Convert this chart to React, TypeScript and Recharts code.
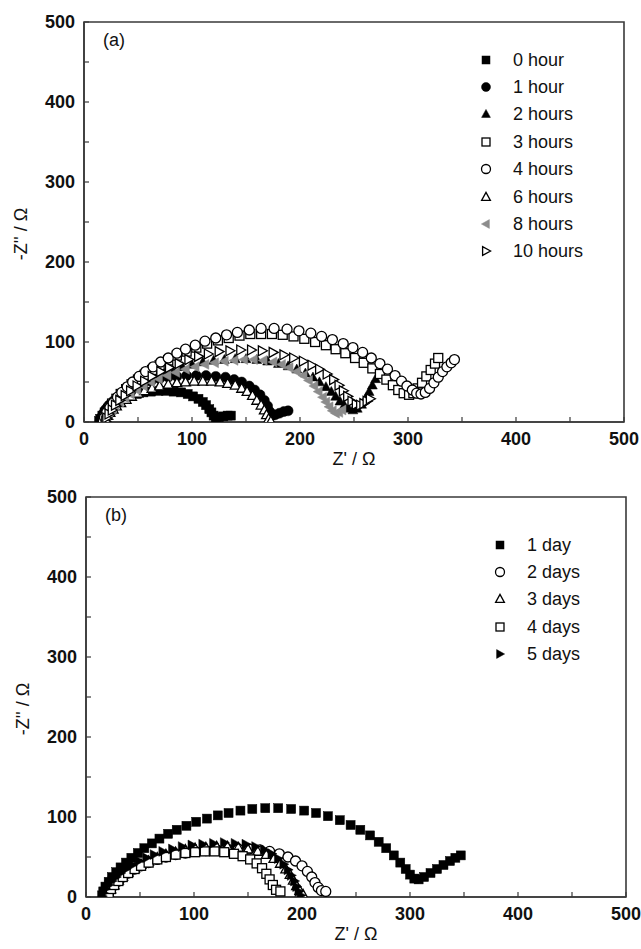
import React from "react";
import { Label, ReferenceArea, Scatter, ScatterChart, XAxis, YAxis } from "recharts";

type Pair = [number, number];
type Kind = "square" | "circle" | "triUp" | "triLeft" | "triRight";

// panel (a): hours of immersion
const hour0: Pair[] = [
  [14, 1], [15, 4], [17, 8], [19, 12], [22, 16], [25, 20], [29, 24], [33, 27], [38, 30], [43, 33],
  [49, 35], [55, 37], [62, 38], [69, 39], [76, 39], [83, 38], [90, 37], [96, 35], [101, 32], [106, 29],
  [110, 25], [113, 21], [116, 16], [118, 12], [120, 8], [122, 5], [125, 6], [129, 7], [133, 8], [136, 8],
];
const hour1: Pair[] = [
  [15, 2], [16, 6], [18, 11], [20, 16], [23, 21], [27, 26], [31, 31], [36, 35], [42, 40], [48, 44],
  [55, 48], [62, 51], [70, 54], [78, 56], [86, 57], [95, 58], [104, 58], [113, 58], [122, 57], [131, 56],
  [139, 53], [146, 50], [153, 45], [158, 40], [163, 34], [167, 27], [170, 20], [172, 13], [174, 8], [177, 9],
  [181, 11], [185, 13], [189, 14],
];
const hour2: Pair[] = [
  [17, 1], [18, 5], [20, 10], [23, 15], [26, 20], [30, 26], [35, 31], [40, 36], [46, 41], [52, 46],
  [59, 51], [66, 56], [74, 61], [82, 65], [91, 69], [100, 72], [110, 75], [120, 77], [130, 78], [140, 79],
  [150, 79], [160, 78], [170, 76], [180, 73], [189, 70], [197, 66], [205, 61], [212, 56], [218, 50], [224, 44],
  [229, 38], [233, 32], [237, 26], [241, 21], [245, 17], [249, 15], [253, 17], [257, 22], [261, 30], [264, 38],
  [267, 46], [270, 54],
];
const hour3: Pair[] = [
  [18, 1], [19, 6], [21, 11], [23, 17], [26, 23], [30, 29], [34, 35], [39, 41], [44, 47], [50, 53],
  [56, 59], [63, 65], [70, 71], [78, 77], [86, 83], [95, 88], [104, 93], [114, 98], [124, 102], [134, 105],
  [144, 108], [154, 110], [164, 110], [174, 110], [184, 109], [194, 107], [204, 104], [214, 100], [224, 96], [233, 91],
  [242, 86], [251, 80], [259, 74], [267, 67], [274, 60], [280, 53], [286, 46], [291, 40], [296, 36], [301, 34],
  [305, 36], [309, 42], [313, 49], [317, 57], [321, 65], [325, 73], [328, 80],
];
const hour4: Pair[] = [
  [18, 1], [19, 6], [21, 12], [24, 18], [27, 24], [31, 31], [35, 37], [40, 44], [45, 50], [51, 57],
  [57, 63], [64, 69], [71, 75], [78, 80], [86, 86], [94, 91], [103, 96], [112, 101], [122, 105], [132, 109],
  [142, 112], [153, 115], [164, 117], [176, 117], [188, 116], [199, 114], [210, 111], [220, 107], [230, 103], [240, 98],
  [249, 93], [258, 87], [266, 80], [274, 73], [281, 66], [288, 58], [294, 51], [299, 45], [304, 40], [308, 36],
  [312, 35], [316, 37], [320, 42], [324, 49], [328, 56], [332, 63], [336, 69], [340, 74], [343, 78],
];
const hour6: Pair[] = [
  [19, 1], [20, 4], [22, 8], [24, 12], [27, 16], [30, 20], [34, 24], [39, 28], [44, 32], [50, 36],
  [56, 39], [63, 42], [70, 45], [78, 47], [86, 49], [94, 50], [102, 51], [110, 51], [118, 51], [126, 50],
  [133, 48], [140, 46], [146, 42], [151, 38], [156, 33], [160, 27], [164, 21], [167, 15], [169, 9], [171, 4],
  [173, 1],
];
const hour8: Pair[] = [
  [20, 1], [21, 5], [23, 10], [26, 15], [29, 20], [33, 25], [38, 30], [43, 35], [49, 40], [55, 45],
  [62, 50], [69, 54], [77, 58], [85, 62], [94, 66], [103, 69], [112, 72], [121, 74], [130, 76], [139, 77],
  [148, 78], [157, 78], [166, 77], [175, 75], [183, 72], [190, 68], [197, 63], [203, 58], [208, 52], [213, 45],
  [217, 38], [221, 31], [224, 25], [227, 19], [230, 14], [233, 11], [236, 12], [239, 15],
];
const hour10: Pair[] = [
  [20, 1], [21, 5], [23, 10], [26, 15], [29, 21], [33, 27], [38, 33], [43, 39], [49, 45], [56, 51],
  [63, 57], [71, 63], [79, 68], [88, 73], [97, 78], [106, 82], [115, 85], [125, 88], [135, 89], [145, 90],
  [155, 90], [165, 89], [175, 87], [185, 84], [194, 80], [203, 76], [211, 71], [218, 66], [225, 60], [231, 53],
  [236, 46], [240, 39], [244, 32], [248, 26], [252, 22], [256, 21], [259, 23], [262, 26], [265, 29],
];

// panel (b): days of immersion
const day1: Pair[] = [
  [15, 2], [16, 7], [18, 13], [21, 19], [24, 25], [28, 31], [32, 37], [37, 43], [42, 49], [48, 55],
  [54, 61], [61, 67], [68, 73], [76, 79], [84, 84], [93, 89], [102, 94], [112, 98], [122, 102], [132, 105],
  [143, 108], [154, 110], [166, 111], [178, 111], [190, 110], [202, 108], [213, 105], [224, 101], [235, 96], [245, 90],
  [254, 84], [263, 77], [271, 69], [278, 61], [285, 52], [291, 43], [296, 35], [300, 28], [304, 23], [308, 22],
  [313, 25], [319, 30], [325, 35], [331, 40], [337, 45], [342, 49], [347, 52],
];
const day2: Pair[] = [
  [20, 1], [21, 5], [23, 10], [26, 15], [30, 20], [34, 25], [39, 30], [45, 35], [51, 39], [58, 43],
  [66, 47], [74, 50], [83, 53], [92, 55], [101, 57], [111, 58], [121, 59], [131, 60], [141, 60], [151, 60],
  [161, 59], [170, 57], [179, 54], [187, 50], [194, 45], [200, 39], [205, 32], [209, 25], [212, 18], [215, 12],
  [218, 8], [222, 7],
];
const day3: Pair[] = [
  [20, 1], [21, 5], [23, 10], [26, 15], [30, 21], [34, 26], [39, 31], [45, 36], [51, 41], [58, 45],
  [66, 49], [74, 53], [83, 56], [92, 59], [101, 61], [111, 62], [121, 63], [131, 63], [141, 62], [150, 60],
  [159, 57], [167, 53], [174, 48], [180, 42], [185, 35], [189, 28], [192, 21], [195, 14], [198, 8], [201, 3],
];
const day4: Pair[] = [
  [20, 1], [21, 5], [23, 10], [26, 15], [30, 20], [34, 25], [39, 30], [45, 35], [51, 39], [58, 43],
  [66, 47], [74, 50], [83, 53], [92, 55], [101, 56], [110, 57], [119, 57], [128, 56], [137, 54], [145, 51],
  [152, 47], [158, 42], [163, 36], [167, 29], [170, 22], [173, 15], [176, 9], [180, 7],
];
const day5: Pair[] = [
  [15, 1], [16, 5], [18, 10], [21, 15], [24, 20], [28, 25], [32, 30], [37, 35], [43, 40], [49, 45],
  [56, 49], [63, 53], [71, 57], [80, 60], [89, 63], [98, 65], [108, 66], [118, 67], [128, 68], [138, 67],
  [148, 66], [157, 63], [165, 59], [172, 54], [178, 48], [183, 41], [187, 34], [190, 27], [193, 20], [195, 13],
  [197, 7], [199, 2],
];

const axisTicks = [0, 50, 100, 150, 200, 250, 300, 350, 400, 450, 500];

const panelA = [
  { name: "0 hour", data: hour0, kind: "square" as Kind, fill: "#000" },
  { name: "1 hour", data: hour1, kind: "circle" as Kind, fill: "#000" },
  { name: "2 hours", data: hour2, kind: "triUp" as Kind, fill: "#000" },
  { name: "3 hours", data: hour3, kind: "square" as Kind, fill: "#fff" },
  { name: "4 hours", data: hour4, kind: "circle" as Kind, fill: "#fff" },
  { name: "6 hours", data: hour6, kind: "triUp" as Kind, fill: "#fff" },
  { name: "8 hours", data: hour8, kind: "triLeft" as Kind, fill: "#8c8c8c" },
  { name: "10 hours", data: hour10, kind: "triRight" as Kind, fill: "#fff" },
];

const panelB = [
  { name: "1 day", data: day1, kind: "square" as Kind, fill: "#000" },
  { name: "2 days", data: day2, kind: "circle" as Kind, fill: "#fff" },
  { name: "3 days", data: day3, kind: "triUp" as Kind, fill: "#fff" },
  { name: "4 days", data: day4, kind: "square" as Kind, fill: "#fff" },
  { name: "5 days", data: day5, kind: "triRight" as Kind, fill: "#000" },
];

type Series = (typeof panelA)[number];

const FONT = "'Liberation Sans', Arial, sans-serif";
const AXIS = "#3a3a3a";

function Marker({ cx, cy, kind, fill, s }: { cx: number; cy: number; kind: Kind; fill: string; s: number }) {
  const open = fill === "#fff";
  const stroke = open ? "#000" : fill;
  const sw = open ? 1.3 : 0.5;
  const h = s / 2;
  if (kind === "square") {
    return <rect x={cx - h} y={cy - h} width={s} height={s} fill={fill} stroke={stroke} strokeWidth={sw} />;
  }
  if (kind === "circle") {
    return <circle cx={cx} cy={cy} r={h + 0.5} fill={fill} stroke={stroke} strokeWidth={sw} />;
  }
  let pts: number[][];
  if (kind === "triUp") pts = [[cx, cy - h * 1.15], [cx - h * 1.1, cy + h * 0.85], [cx + h * 1.1, cy + h * 0.85]];
  else if (kind === "triLeft") pts = [[cx - h * 1.15, cy], [cx + h * 0.85, cy - h * 1.1], [cx + h * 0.85, cy + h * 1.1]];
  else pts = [[cx + h * 1.15, cy], [cx - h * 0.85, cy - h * 1.1], [cx - h * 0.85, cy + h * 1.1]];
  return <polygon points={pts.map((p) => p.join(",")).join(" ")} fill={fill} stroke={stroke} strokeWidth={sw} strokeLinejoin="miter" />;
}

function LegendBox({ series, left, top }: { series: Series[]; left: number; top: number }) {
  return (
    <div style={{ position: "absolute", left, top, fontFamily: FONT, fontSize: 18, color: "#111" }}>
      {series.map((s) => (
        <div key={s.name} style={{ display: "flex", alignItems: "center", height: 27.4 }}>
          <svg width={34} height={16} style={{ display: "block" }}>
            <Marker cx={7} cy={8} kind={s.kind} fill={s.fill} s={8} />
          </svg>
          <span style={{ lineHeight: "18px", whiteSpace: "nowrap" }}>{s.name}</span>
        </div>
      ))}
    </div>
  );
}

const tickFmt = (v: number) => (v % 100 === 0 ? String(v) : "");

function Panel({ series, tag, shiftX, height, bottom }: {
  series: Series[]; tag: string; shiftX: number; height: number; bottom: number;
}) {
  const tickStyle = { fill: "#111", fontSize: 18, fontWeight: 700, fontFamily: FONT };
  return (
    <ScatterChart width={641} height={height} margin={{ top: 22, right: 17 - shiftX, bottom, left: 24 + shiftX }}>
      <XAxis
        type="number" dataKey="x" domain={[0, 500]} ticks={axisTicks} interval={0} tickFormatter={tickFmt}
        allowDataOverflow height={30} tickSize={-5} tickMargin={15} tick={tickStyle}
        axisLine={{ stroke: AXIS, strokeWidth: 1.6 }} tickLine={{ stroke: AXIS, strokeWidth: 1.2 }}
      >
        <Label value="Z' / Ω" position="bottom" offset={0} style={{ fontFamily: FONT, fontSize: 18, fill: "#111" }} />
      </XAxis>
      <YAxis
        type="number" dataKey="y" domain={[0, 500]} ticks={axisTicks} interval={0} tickFormatter={tickFmt}
        allowDataOverflow width={60} tickSize={-5} tickMargin={14} tick={tickStyle}
        axisLine={{ stroke: AXIS, strokeWidth: 1.6 }} tickLine={{ stroke: AXIS, strokeWidth: 1.2 }}
      >
        <Label value={"-Z'' / Ω"} angle={-90} position="left" offset={3} dy={12}
          style={{ fontFamily: FONT, fontSize: 18, fill: "#111", textAnchor: "middle" }} />
      </YAxis>
      <ReferenceArea x1={0} x2={500} y1={0} y2={500} fill="none" stroke={AXIS} strokeWidth={1.6} ifOverflow="visible">
        <Label value={tag} position="insideTopLeft" offset={19} dy={-8} style={{ fontFamily: FONT, fontSize: 18, fill: "#111" }} />
      </ReferenceArea>
      {series.map((s) => (
        <Scatter
          key={s.name}
          name={s.name}
          data={s.data.map(([x, y]) => ({ x, y }))}
          isAnimationActive={false}
          shape={(p: any) => <Marker cx={p.cx} cy={p.cy} kind={s.kind} fill={s.fill} s={9} />}
        />
      ))}
    </ScatterChart>
  );
}

export default function App() {
  return (
    <div style={{ position: "absolute", left: 0, top: 0, width: 641, height: 949, background: "#fff", overflow: "hidden" }}>
      <div style={{ position: "absolute", left: 0, top: 0 }}>
        <Panel series={panelA} tag="(a)" shiftX={0} height={475} bottom={23} />
      </div>
      <LegendBox series={panelA} left={479} top={46} />
      <div style={{ position: "absolute", left: 0, top: 475 }}>
        <Panel series={panelB} tag="(b)" shiftX={2} height={474} bottom={22} />
      </div>
      <LegendBox series={panelB} left={493} top={531} />
    </div>
  );
}
